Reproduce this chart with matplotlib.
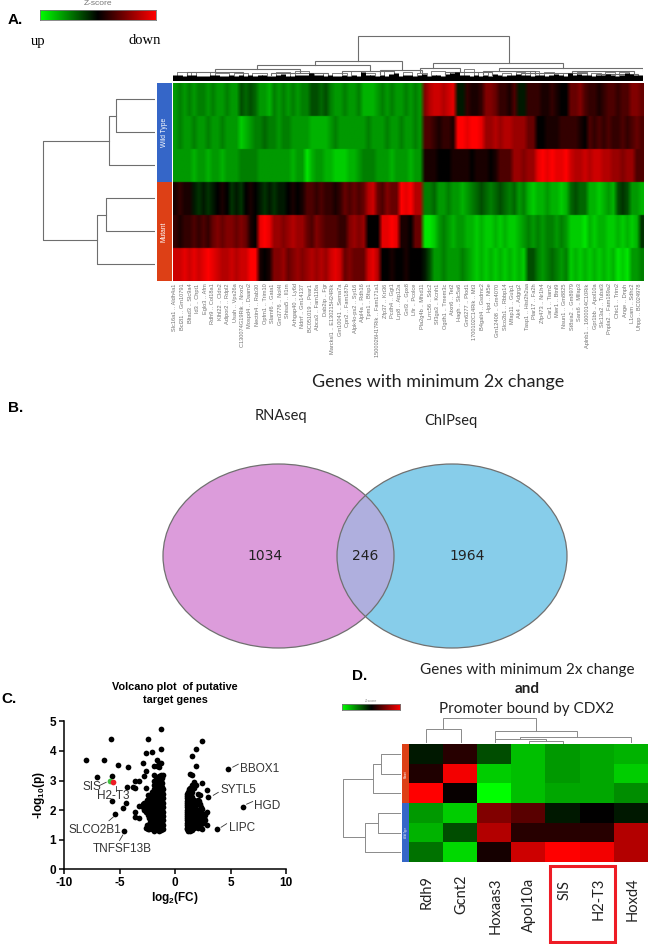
import matplotlib
matplotlib.use('Agg')
import matplotlib.pyplot as plt
from matplotlib.colors import LinearSegmentedColormap
from matplotlib.patches import Ellipse, Rectangle
import numpy as np

plt.rcParams['font.family'] = 'Liberation Sans'
plt.rcParams['axes.unicode_minus'] = False
plt.rcParams['mathtext.fontset'] = 'custom'
plt.rcParams['mathtext.bf'] = 'Liberation Sans:bold'
plt.rcParams['mathtext.rm'] = 'Liberation Sans'

W, H = 649, 944
green_red = LinearSegmentedColormap.from_list('gr', ['#00ff00', '#000000', '#ff0000'])
blue_bar = '#3566c8'
red_bar = '#dd4016'
grey_line = '#6e6e6e'

# panel A, z-score per gene column
wt1 = [-6,-5,-6,-5,-6,-5,-5,-6,-5,-6,-6,-5,-6,-6,-3,-4,-3,-4,-6,-6,-7,-5,-6,-5,-6,-5,-6,-5,-5,-3,-3,-4,-3,
       -5,-6,-6,-5,-6,-6,-5,-7,-7,-7,-6,-5,-6,-5,-6,-6,-5,-6,-5,-6,
       5,7,8,8,7,8,9,-1,-1,2,1,1,2,5,5,4,2,2,1,3,-1,-1,2,2,2,1,1,2,1,0,0,4,4,5,3,2,2,1,2,3,3,2,3,3,5,5,4]
wt2 = [-6,-5,-6,-6,-5,-6,-6,-5,-6,-6,-5,-6,-6,-6,-8,-7,-6,-5,-5,-4,-5,-5,-6,-5,-5,-6,-6,-6,-6,-7,-7,-7,-7,
       -6,-5,-6,-6,-6,-6,-6,-6,-5,-6,-6,-6,-5,-6,-6,-5,-6,-6,-5,-6,
       3,3,2,1,2,2,1,10,10,9,10,10,9,6,6,7,6,7,7,6,6,6,4,4,0,0,1,1,1,2,2,2,2,1,0,3,2,3,2,3,2,2,3,2,3,4,3]
wt3 = [-6,-6,-6,-6,-7,-6,-6,-7,-6,-6,-7,-6,-6,-6,-5,-5,-5,-5,-6,-6,-6,-6,-6,-6,-6,-7,-6,-6,-9,-7,-6,-6,-7,
       -7,-8,-8,-8,-7,-7,-6,-5,-5,-5,-6,-6,-6,-7,-6,-6,-6,-7,-6,-6,
       1,1,1,0,0,0,1,1,1,1,0,1,1,1,0,1,3,3,3,6,6,5,6,6,9,10,9,10,9,9,10,8,7,7,8,7,8,8,7,7,6,6,5,6,6,3,3]
mut1 = [1,2,1,1,-1,-2,-1,-2,-1,0,1,0,-2,-1,-2,0,1,0,-1,-2,-1,-2,-1,-1,0,1,0,1,3,3,2,3,2,
        2,1,2,4,3,4,3,4,7,8,4,3,5,4,4,10,9,10,7,7,
        -5,-5,-4,-6,-6,-5,-6,-6,-7,-6,-5,-4,-3,-4,-5,-4,-3,-4,-5,-4,-6,-5,-7,-8,-7,-7,-6,-7,-7,-8,-7,
        -4,-3,-4,-4,-7,-7,-8,-7,-6,-7,-3,-2,-3,-6,-6,-7]
mut2 = [2,1,2,2,3,2,3,2,4,5,4,5,5,4,5,4,1,0,9,10,9,6,6,5,6,7,6,6,4,3,5,4,3,
        3,3,2,2,5,6,5,6,0,0,0,9,9,10,9,1,1,0,4,4,
        -9,-9,-8,-6,-5,-6,-7,-6,-6,-7,-7,-8,-7,-8,-8,-7,-8,-7,-8,-8,-7,-6,-5,-6,-5,-6,-5,-5,-6,-5,-6,
        -8,-8,-8,-9,-7,-8,-7,-7,-8,-8,-7,-8,-7,-8,-7,-2]
mut3 = [8,8,9,8,9,8,9,10,9,8,7,7,8,7,8,8,10,10,1,0,1,5,5,6,4,5,6,5,6,7,6,7,6,
        8,9,8,4,5,4,4,4,8,9,7,0,0,1,0,0,1,0,0,0,
        -1,-3,-6,-6,-5,-6,-6,-6,-5,-6,-7,-8,-7,-8,-7,-8,-7,-8,-7,-8,-7,-8,-3,-3,-5,-6,-5,-4,-5,-6,-5,
        -8,-7,-8,-7,-8,-7,-8,-7,-8,-7,-9,-8,-9,-6,-6,-5]

gene_pairs_a = ['Slc16a1 .. Aldh4a1', 'Bcl2l1 .. Gm10791', 'Bltad3 .. Slc9a4', 'Id3 .. Chpt1', 'Eglo3 .. Afm',
    'Rdh9 .. Col18a1', 'Klhl22 .. Cldn2', 'Adipor2 .. Rdpl2', 'Usah .. Vps26a', 'C130074G19Rik .. Nrxn2',
    'Mospd4 .. Daam2', 'Nectin4 .. Rab30', 'Opfm1 .. Trim10', 'Slamf6 .. Gata1', 'Gm3776 .. Nol4l',
    'Shisa5 .. Il1rn', 'Arhgap40 .. Ly6d', 'Ndrrf .. Gm14137', 'BC051019 .. Pear1', 'Abca3 .. Fam118a',
    'Dab2ip .. Fgr', 'Marcksl1 .. E130215H24Rik', 'Gm10041 .. Sema7a', 'Cpn2 .. Fam187b', 'Alpk4o-ps2 .. Syt16',
    'Alpl4a .. Rdh16', 'Tpm1 .. Bfsp1', '1500026H17Rik .. Fam171a1', 'Zfp37 .. Krt36', 'Pcdh4 .. Ggt1',
    'Lrp8 .. Atp12a', 'Gnl3 .. Gpx8', 'Lfir .. Pcolce', 'Pla2g4b .. Mfsd11', 'Lrrc56 .. Sdc2',
    'Sf3ga3 .. Kcnh1', 'Ogdh1 .. Tmem3c', 'Atxn6 .. Tet2', 'Hagh .. Slc5a6', 'Gm6277 .. Plod1',
    '1700102C14Rik .. Mt3', 'B4galt4 .. Gsdmc2', 'Hpd .. Nt5e', 'Gm12408 .. Gm4070', 'Slco2b1 .. Rbbp14',
    'Mfap11 .. Gulp1', 'Ak4 .. Adgrg2', 'Tasp1 .. Hist2h2aa', 'Plar17 .. Fa2h', 'Zfp473 .. Nr1h4',
    'Car1 .. Tiam2', 'Mier1 .. Btnl9', 'Nsun1 .. Gm8825', 'St8sia2 .. Gm8979', 'Sars6 .. Mllap3',
    'Aplnb1 .. 1600014C10Rik', 'Gpr1bb .. Apol10a', 'Slc13a2 .. Tubal3', 'Pnpla2 .. Fam189a2', 'Chic1 .. Trim2',
    'Ange .. Dnph', 'L1cam .. Sdhc2', 'Uhpp .. BC024978']

# dendrogram of panel A: left, right, height, left foot, right foot
top_links_a = [(39.5,71.6,44.5,19.5,17.5), (30.3,48.8,19.5,15.5,11), (18,42,15.5,12,10), (9,27,12,9,8),
    (3,15,9,6,6), (21,33,8,6,5), (36,47,10,7,7), (44,53,11,7,6), (55.4,82.9,17.5,12.5,12.5), (52.5,61,12.5,9,9),
    (58,68,9,7,6), (69.3,100,12.5,10,10), (66,77,10,7,7), (74,88,8,6,6), (85,98,10,8,7), (90,99,7,5,5)]
small_links_a = [(1,4,6.5),(5,8,7),(9,12,5.5),(13,16,6),(17,20,5.5),(22,25,7),(26,29,8),(30,32,6),(34,37,6),(38,40,7.5),
    (41,43,6),(45,47,9),(49,51,7),(52,54,6),(55,58,8),(59,60,7),(62,64,10),(65,67,7),(70,72,6),(73,75,7),
    (76,78,8),(79,81,7),(83,85,6),(86,88,7),(89,91,6),(92,94,7),(95,97,7)]
leaf_heights_a = [6,6,5,6,6,5,5,5,6,6,5,5,6,5,6,5,6,5,6,6,5,5,6,7,5,5,6,6,6,8,6,6,5,6,5,5,6,5,6,5,
                  9,6,6,5,6,5,7,8,5,6,6,5,6,7,5,6,6,5,7,8,9,6,6,5,6,5,6,5,7,6,5,6,6,7,6,6,5,6,6,5,
                  6,7,6,5,8,6,7,6,6,5,6,6,7,6,5,6,8,7,6,6]

# row dendrograms: top row, bottom row, height, top foot, bottom foot (rows counted from the top)
row_links_a = [(0,1,39,0,0), (0.5,2,46,39,0), (3,4,49,0,0), (3.5,5,58,49,0), (1.25,4.25,112,46,58)]
samples_a = ['Wild Type', 'Wild Type', 'Wild Type', 'Mutant', 'Mutant', 'Mutant']

# panel B
venn_set_names = ['RNAseq', 'ChIPseq']
venn_counts = [1034, 246, 1964]

# panel C, points grouped by log2 fold change
volcano_fc = [-1.05,-1.15,-1.25,-1.35,-1.45,-1.55,-1.65,-1.75,-1.85,-1.95,-2.05,-2.15,-2.25,-2.35,-2.45,-2.55,-2.65,-2.75,
              -2.9,-3.2,-3.6,-3.8,-4.2,-4.35,-4.4,-4.6,-4.7,-5.1,-5.4,
              -5.65,-5.7,-5.8,-6.4,-7.05,-8,
              1.05,1.12,1.2,1.28,1.35,1.42,1.5,1.6,1.7,1.78,1.85,1.95,2.05,2.15,2.25,2.35,2.45,2.6,2.7,2.85,2.95,3.8,4.8,6.1]
volcano_p = [[1.35,1.5,1.65,1.8,1.95,2.1,2.25,2.4,2.55,2.7,3.18],
    [1.42,1.58,1.72,1.88,2.02,2.18,2.32,2.48,2.62,2.78,2.9,3.08],
    [1.32,1.45,1.6,1.75,1.9,2.05,2.2,2.35,2.5,2.65,2.8,3.0,3.2,3.6,4.05,4.73],
    [1.38,1.52,1.68,1.82,1.98,2.12,2.28,2.42,2.58,2.72,2.86,3.1],
    [1.3,1.4,1.55,1.7,1.85,2.0,2.15,2.3,2.45,2.6,2.75,2.9,3.05,3.15,3.45,3.6],
    [1.33,1.48,1.62,1.78,1.92,2.08,2.22,2.38,2.52,2.68,2.82,2.98],
    [1.35,1.5,1.65,1.8,1.95,2.1,2.25,2.4,2.6,2.8,2.95,3.1,3.5,3.68],
    [1.4,1.55,1.7,1.85,2.0,2.15,2.3,2.5,2.65,2.78,3.05],
    [1.3,1.45,1.6,1.75,1.9,2.05,2.2,2.4,2.55,2.7,2.85,3.0,3.2,3.48],
    [1.38,1.55,1.72,1.9,2.08,2.25,2.38,2.52],
    [1.35,1.5,1.65,1.8,2.0,2.15,2.3,2.45,2.6,3.96],
    [1.45,1.7,1.88,2.05,2.2,2.35],
    [1.4,1.6,1.8,1.95,2.1,2.25,2.4,2.5],
    [1.35,1.75,1.95,2.15,2.3,2.45],
    [1.35,1.45,1.85,2.0,2.15,2.3,2.5,4.39],
    [1.38,1.5,2.05,2.2,2.35],
    [1.4,1.95,2.15,2.2,2.74,3.33,3.92],
    [2.0,2.15,2.25,3.16],
    [2.1,2.2,3.6],
    [1.72,2.15,3.0],
    [1.76,1.95,2.74,3.0],
    [2.77],
    [3.47],
    [2.79],
    [2.25],
    [1.31],
    [2.06],
    [3.53],
    [1.88],
    [2.3],
    [3.15],
    [4.39],
    [3.7],
    [3.12],
    [3.7],
    [1.35,1.5,1.65,1.8,1.95,2.1,2.25,2.4,2.55],
    [1.4,1.58,1.72,1.88,2.02,2.18,2.32,2.48],
    [1.3,1.45,1.6,1.75,1.9,2.05,2.2,2.35,2.5,2.62],
    [1.38,1.52,1.68,1.82,1.98,2.12,2.28,2.42,2.7],
    [1.3,1.42,1.58,1.72,1.88,2.15,2.3,2.45,2.6,2.75,3.21],
    [1.35,1.5,1.65,1.8,1.95,2.2,2.38,2.55],
    [1.32,1.5,1.65,1.8,2.05,2.25,2.45,2.6,2.72,2.85,3.19,3.83],
    [1.38,1.58,1.72,1.9,2.1,2.3,2.8],
    [1.4,1.55,1.75,1.95,2.15,2.35,2.75,2.95],
    [1.5,1.68,1.88,2.1,2.3],
    [1.45,1.6,1.85,2.05,2.2,2.85,3.5,4.05],
    [1.42,1.62,1.8,2.0],
    [1.4,1.55,1.75,1.95,2.2,2.35,2.55],
    [1.48,1.7,1.9,2.3],
    [1.45,1.65,1.85,2.0,2.2,2.5],
    [1.38,1.55,1.75,2.1],
    [1.37,1.6,1.9,2.05,2.9,4.33],
    [1.55,1.75,1.85],
    [1.65,1.85],
    [1.5,1.93,2.68],
    [2.45],
    [1.35],
    [3.38],
    [2.09]]
sis_point = (-5.85, 2.98)
h2t3_point = (-5.6, 2.94)
# label, text x, text y, leader from (x, y) to (x, y)
volcano_labels = [('BBOX1', 5.85, 3.4, 5.2, 3.45, 5.7, 3.55), ('SYTL5', 4.1, 2.68, 3.45, 2.5, 3.9, 2.6),
    ('HGD', 7.15, 2.13, 6.45, 2.2, 7.0, 2.29), ('LIPC', 4.85, 1.38, 4.15, 1.42, 4.65, 1.54),
    ('SIS', -8.3, 2.79, -6.8, 2.83, -6.2, 2.94), ('H2-T3', -7.0, 2.49, -5.35, 2.83, -5.35, 2.65),
    ('SLCO2B1', -9.6, 1.34, -5.95, 1.64, -5.55, 1.77), ('TNFSF13B', -7.45, 0.67, -5.0, 0.97, -4.7, 1.16)]

# panel D
genes_d = ['Rdh9', 'Gcnt2', 'Hoxaas3', 'Apol10a', 'SIS', 'H2-T3', 'Hoxd4']
heat_d = [[-1, 1.5, -3, -7.5, -6, -6.5, -7],
          [1.2, 9.5, -8, -7.5, -6, -6.5, -8],
          [10, 0.3, -10, -7.5, -6.5, -6.5, -5.5],
          [-6, -8, 5, 3.5, -1, 0, -1],
          [-7, -3, 7, 1.5, 1.5, 1.5, 7],
          [-4.5, -8.5, 0.8, 8, 10, 9.5, 7]]
samples_d = ['Mutant', 'Mutant', 'Mutant', 'Wild Type', 'Wild Type', 'Wild Type']
top_links_d = [(0,1,15,1.5,1.5), (3,4,2.3,1,1), (2,3.5,5,1.5,2.3), (2.75,6,6.7,5,1.5), (2,4.4,12.3,1.5,6.7), (0.5,3.2,25.7,15,12.3)]
row_links_d = [(0,1,20,0,0), (0.5,2,27.7,20,0), (3,4,22.7,0,0), (3.5,5,35.7,22.7,0), (1.25,4.25,57.7,27.7,35.7)]


def px_axes(x0, y0, x1, y1):
    ax = fig.add_axes([x0 / W, 1 - y1 / H, (x1 - x0) / W, (y1 - y0) / H])
    return ax


def draw_heat(ax, values, soften=False):
    grid = np.array(values, dtype=float)
    if soften:
        # rows repeated so the bilinear softening only acts along the columns
        grid = np.repeat(grid, 24, axis=0)
    ax.imshow(grid, cmap=green_red, vmin=-10, vmax=10, aspect='auto',
              interpolation='bilinear' if soften else 'nearest',
              extent=[0, len(values[0]), len(values), 0])
    ax.axis('off')


def draw_top_links(ax, links, color=grey_line, lw=0.8):
    for a, b, h, ha, hb in links:
        ax.plot([a, a, b, b], [ha, h, h, hb], color=color, lw=lw, solid_joinstyle='miter')


def draw_row_links(ax, links, color=grey_line, lw=0.8):
    # heights run leftwards from the heat map
    for a, b, h, ha, hb in links:
        ax.plot([ha, h, h, hb], [a + 0.5, a + 0.5, b + 0.5, b + 0.5], color=color, lw=lw)


def draw_sidebar(ax, samples, fontsize):
    for i, s in enumerate(samples):
        ax.barh(i + 0.5, 1, height=1, color=blue_bar if s == 'Wild Type' else red_bar)
    ax.set_xlim(0, 1)
    ax.set_ylim(len(samples), 0)
    ax.axis('off')
    for name in ['Wild Type', 'Mutant']:
        rows = [i + 0.5 for i, s in enumerate(samples) if s == name]
        ax.text(0.5, np.mean(rows), name, color='white', rotation=90, ha='center', va='center', fontsize=fontsize)


def draw_colorbar(ax):
    ax.imshow(np.linspace(-10, 10, 256).reshape(1, -1), cmap=green_red, aspect='auto')
    ax.set_xticks([])
    ax.set_yticks([])
    for s in ax.spines.values():
        s.set_color('#777777')
        s.set_linewidth(0.6)


fig = plt.figure(figsize=(W / 100, H / 100), dpi=100)

# page layer, pixel coordinates
page = fig.add_axes([0, 0, 1, 1], zorder=5)
page.set_xlim(0, W)
page.set_ylim(H, 0)
page.axis('off')
page.patch.set_alpha(0)

# --- panel A
draw_colorbar(px_axes(40, 10, 156, 20))
page.text(98, 3.5, 'Z-score', color='#777777', fontsize=6, ha='center', va='center')
page.text(8, 20, 'A.', fontsize=11, fontweight='bold', va='center')
page.text(38, 41, 'up', family='Liberation Serif', fontsize=10.5, ha='center', va='center')
page.text(144.5, 41, 'down', family='Liberation Serif', fontsize=10.5, ha='center', va='center')

heat_a = [wt1, wt2, wt3, mut1, mut2, mut3]
draw_heat(px_axes(172.5, 83, 643, 281), heat_a, soften=True)
draw_sidebar(px_axes(157, 83, 172, 281), samples_a, 4.8)

dend = px_axes(172.5, 33, 643, 80.5)
draw_top_links(dend, top_links_a)
for a, b, h in small_links_a:
    dend.plot([a, a, b, b], [0, h + 2, h + 2, 0], color=grey_line, lw=0.6)
dend.vlines(np.arange(100) + 0.5, 0, leaf_heights_a, color='black', lw=3.6)
dend.set_xlim(0, 100)
dend.set_ylim(0, 47.5)
dend.axis('off')

rdend = px_axes(40, 83, 155, 281)
draw_row_links(rdend, row_links_a)
rdend.set_xlim(115, 0)
rdend.set_ylim(6, 0)
rdend.axis('off')

for x, g in zip(np.linspace(175, 640, len(gene_pairs_a)), gene_pairs_a):
    page.text(x, 283.5, g, rotation=90, ha='center', va='top', fontsize=4.1, color='#707070')

page.text(438, 382, 'Genes with minimum 2x change', family='Lato', fontsize=13, ha='center', va='center', color='#222222')

# --- panel B
page.text(8, 408, 'B.', fontsize=11, fontweight='bold', va='center')
page.text(281, 416, venn_set_names[0], family='Lato', fontsize=10.5, ha='center', va='center', color='#222222')
page.text(451, 421, venn_set_names[1], family='Lato', fontsize=10.5, ha='center', va='center', color='#222222')
left_set = Ellipse((278.5, 556), 231, 184, fc='#dc9cdb', ec='none')
right_set = Ellipse((452, 556), 230, 184, fc='#87cdea', ec='none')
page.add_patch(left_set)
page.add_patch(right_set)
overlap = Ellipse((452, 556), 230, 184, fc='#afafde', ec='none')
page.add_patch(overlap)
overlap.set_clip_path(left_set)
page.add_patch(Ellipse((278.5, 556), 231, 184, fc='none', ec='#707070', lw=0.9))
page.add_patch(Ellipse((452, 556), 230, 184, fc='none', ec='#707070', lw=0.9))
for x, n in zip([265, 365, 467], venn_counts):
    page.text(x, 556, str(n), family='DejaVu Sans', fontsize=10, ha='center', va='center', color='#222222')

# --- panel C
page.text(1, 699, 'C.', fontsize=11, fontweight='bold', va='center')
page.text(175, 687, 'Volcano plot  of putative', fontsize=7.8, fontweight='bold', ha='center', va='center')
page.text(175, 700, 'target genes', fontsize=7.8, fontweight='bold', ha='center', va='center')
vol = px_axes(64, 721.3, 286, 869.3)
vol_x = np.concatenate([[x] * len(ys) for x, ys in zip(volcano_fc, volcano_p)])
vol_y = np.concatenate(volcano_p)
vol.scatter(vol_x, vol_y, s=17, color='black', linewidths=0, clip_on=False)
vol.scatter(*sis_point, s=17, color='#3fc03f', linewidths=0, zorder=3)
vol.scatter(*h2t3_point, s=17, color='#ee1c25', linewidths=0, zorder=4)
for label, tx, ty, x0, y0, x1, y1 in volcano_labels:
    vol.text(tx, ty, label, fontsize=8.5, color='#333333', va='center', zorder=6)
    vol.plot([x0, x1], [y0, y1], color='#333333', lw=0.6, zorder=6)
vol.set_xlim(-10, 10)
vol.set_ylim(0, 5)
vol.set_xticks([-10, -5, 0, 5, 10])
vol.set_yticks([0, 1, 2, 3, 4, 5])
for s in ['top', 'right']:
    vol.spines[s].set_visible(False)
for s in ['left', 'bottom']:
    vol.spines[s].set_linewidth(1.1)
vol.tick_params(width=1.1, length=3.5, labelsize=8.5, pad=2)
for t in vol.get_xticklabels() + vol.get_yticklabels():
    t.set_fontweight('bold')
vol.set_xlabel(r'$\mathbf{log_2(FC)}$', fontsize=8.5, labelpad=1)
vol.set_ylabel(r'-$\mathbf{log_{10}(p)}$', fontsize=8.5, fontweight='bold', labelpad=2)

# --- panel D
page.text(352, 676, 'D.', fontsize=11, fontweight='bold', va='center')
page.text(527, 670, 'Genes with minimum 2x change', family='Lato', fontsize=11, ha='center', va='center', color='#222222')
page.text(527, 689, 'and', family='Lato', fontsize=11, fontweight='bold', ha='center', va='center', color='#222222')
page.text(527, 709, 'Promoter bound by CDX2', family='Lato', fontsize=11, ha='center', va='center', color='#222222')
draw_colorbar(px_axes(342, 704, 400.3, 710))
page.text(371, 701, 'Z-score', color='#888888', fontsize=2.6, ha='center', va='center')

draw_heat(px_axes(409.3, 744.3, 648.3, 862), heat_d)
draw_sidebar(px_axes(401.7, 744.3, 409.3, 862), samples_d, 1.8)

dend_d = px_axes(409.3, 710, 648.3, 743.5)
draw_top_links(dend_d, top_links_d, color='#8a8a8a', lw=0.7)
dend_d.set_xlim(-0.5, 6.5)
dend_d.set_ylim(0, 33.5)
dend_d.axis('off')

rdend_d = px_axes(340, 744.3, 401, 862)
draw_row_links(rdend_d, row_links_d, color='#8a8a8a', lw=0.7)
rdend_d.set_xlim(61, 0)
rdend_d.set_ylim(6, 0)
rdend_d.axis('off')

label_tops_d = [875, 875, 877, 878, 880, 878, 877]
for x, top, g in zip([427, 461.7, 495.7, 529.3, 564.3, 598.3, 632.7], label_tops_d, genes_d):
    page.text(x, top, g, family='Lato', rotation=90, fontsize=10.5, ha='center', va='top', color='#222222')
page.add_patch(Rectangle((550, 865.5), 65, 76, fc='none', ec='#ee1c25', lw=2.2))

fig.savefig('out.png', dpi=100)
